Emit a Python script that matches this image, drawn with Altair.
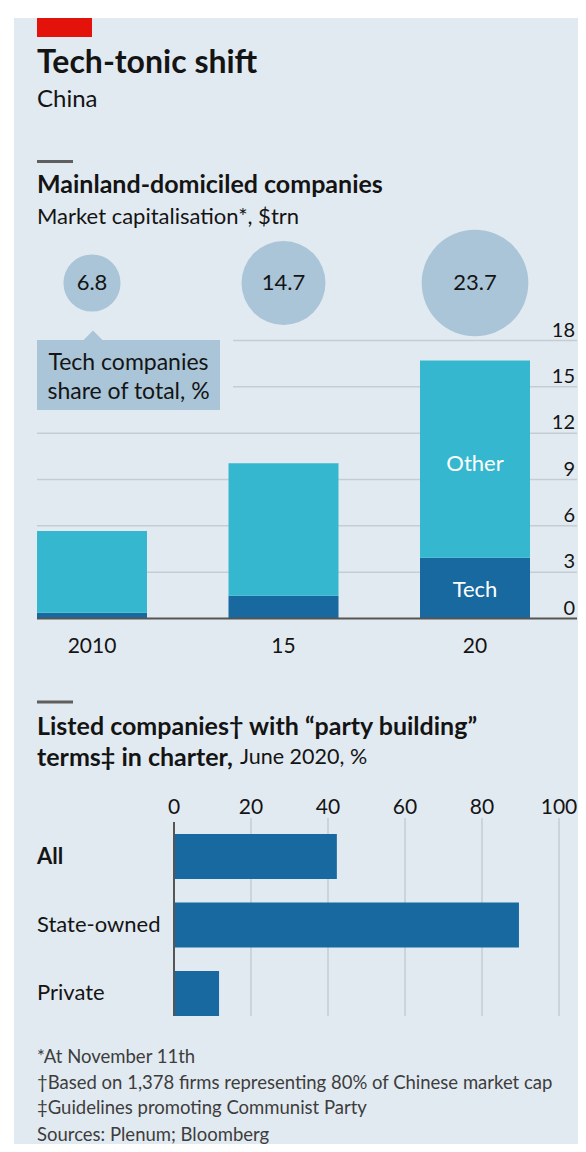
import altair as alt
import pandas as pd

# ---------------- data ----------------
years = ["2010", "15", "20"]
tech_trn = [0.38, 1.48, 3.94]
other_trn = [5.29, 8.57, 12.76]
tech_share = [6.8, 14.7, 23.7]
y_ticks = [0, 3, 6, 9, 12, 15, 18]

groups = ["All", "State-owned", "Private"]
party_pct = [42.3, 89.6, 11.7]
x_ticks = [0, 20, 40, 60, 80, 100]

footnotes = [
    "*At November 11th",
    "\u2020Based on 1,378 firms representing 80% of Chinese market cap",
    "\u2021Guidelines promoting Communist Party",
    "Sources: Plenum; Bloomberg",
]

# ---------------- style ----------------
BG = "#e2eaf1"
RED = "#e3120b"
TEAL = "#35b8cf"
DARK = "#1769a0"
BUBBLE = "#aac5d8"
GRID = "#c5ccd3"
AXIS = "#555555"
INK = "#141414"
NOTE = "#3d3d3d"
FONT = "Lato"

W, H = 570, 1136


def P(v):
    return v - 8


one = pd.DataFrame({"k": [0]})


def label(text, x, y, size, weight="normal", color=INK, align="left"):
    return alt.Chart(one).mark_text(
        text=text, align=align, baseline="middle", font=FONT,
        fontSize=size, fontWeight=weight, color=color,
    ).encode(x=alt.value(P(x)), y=alt.value(P(y)))


def box(x1, x2, y1, y2, color):
    return alt.Chart(one).mark_rect(color=color).encode(
        x=alt.value(P(x1)), x2=alt.value(P(x2)),
        y=alt.value(P(y1)), y2=alt.value(P(y2)))


def seg(x1, x2, y1, y2, color, width):
    return alt.Chart(one).mark_rule(color=color, strokeWidth=width).encode(
        x=alt.value(P(x1)), x2=alt.value(P(x2)),
        y=alt.value(P(y1)), y2=alt.value(P(y2)))


# scales
x_year = alt.Scale(type="band", domain=years, range=[P(37), P(530)],
                   paddingInner=0.4256, paddingOuter=0, align=0)
y_trn = alt.Scale(domain=[0, 18], range=[P(618.5), P(340.5)], nice=False, zero=True)
x_pct = alt.Scale(domain=[0, 100], range=[P(174), P(559)], nice=False, zero=True)
y_grp = alt.Scale(type="band", domain=groups, range=[P(834), P(1016)],
                  paddingInner=0.343, paddingOuter=0, align=0)


def XY():
    return alt.X("year:N", scale=x_year, axis=None, bandPosition=0.5)


def YG():
    return alt.Y("group:N", scale=y_grp, axis=None, bandPosition=0.5)


# tables
bars_df = pd.DataFrame({
    "year": years * 2,
    "segment": ["Tech"] * 3 + ["Other"] * 3,
    "value": tech_trn + other_trn,
    "ord": [0] * 3 + [1] * 3,
})
share_df = pd.DataFrame({"year": years, "share": tech_share})
yt_df = pd.DataFrame({"t": y_ticks})
grid_df = pd.DataFrame({"t": [t for t in y_ticks if t != 0]})
party_df = pd.DataFrame({"group": groups, "pct": party_pct})
xt_df = pd.DataFrame({"t": x_ticks})
xgrid_df = pd.DataFrame({"t": [t for t in x_ticks if t != 0]})

layers = []

# background & header
layers.append(box(14, 586, 18, 1152, BG))
layers.append(box(37, 92, 18, 37, RED))
layers.append(label("Tech-tonic shift", 37, 63, 32, "bold"))
layers.append(label("China", 37, 100, 24))
layers.append(seg(37, 73, 161.5, 161.5, "#5f5f5f", 3))
layers.append(label("Mainland-domiciled companies", 37, 185, 25, "bold"))
layers.append(label("Market capitalisation*, $trn", 37, 217, 22))

# gridlines (top)
layers.append(alt.Chart(grid_df).mark_rule(color=GRID, strokeWidth=1.5).encode(
    y=alt.Y("t:Q", scale=y_trn, axis=None),
    x=alt.value(P(37)), x2=alt.value(P(577))))

# annotation box
layers.append(box(30, 233, 330, 412, BG))
layers.append(box(37, 220, 340, 410, BUBBLE))
layers.append(alt.Chart(one).mark_point(
    shape="M -1 0 L 0 -1 L 1 0 Z", filled=True, size=400, color=BUBBLE,
    opacity=1, strokeWidth=0).encode(x=alt.value(P(93)), y=alt.value(P(340.5))))
layers.append(label("Tech companies", 128.5, 363, 23, align="center"))
layers.append(label("share of total, %", 128.5, 392, 23, align="center"))

# bubbles
layers.append(alt.Chart(share_df).mark_circle(color=BUBBLE, opacity=1).encode(
    x=XY(),
    y=alt.value(P(283)),
    size=alt.Size("share:Q", scale=alt.Scale(domain=[0, 23.7], range=[0, 11376],
                                              zero=True, nice=False), legend=None)))
layers.append(alt.Chart(share_df).mark_text(
    font=FONT, fontSize=22, color=INK, baseline="middle").encode(
    x=XY(),
    y=alt.value(P(283)),
    text=alt.Text("share:Q", format=".1f")))

# stacked bars
layers.append(alt.Chart(bars_df).mark_bar().encode(
    x=alt.X("year:N", scale=x_year, axis=None),
    y=alt.Y("value:Q", stack="zero", scale=y_trn, axis=None),
    color=alt.Color("segment:N", scale=alt.Scale(domain=["Tech", "Other"],
                                                 range=[DARK, TEAL]), legend=None),
    order=alt.Order("ord:Q")))

# zero line
layers.append(seg(37, 577, 618.5, 618.5, AXIS, 2))

# y tick labels
layers.append(alt.Chart(yt_df).mark_text(
    font=FONT, fontSize=20, color=INK, align="right", baseline="alphabetic",
    dy=-4).encode(
    y=alt.Y("t:Q", scale=y_trn, axis=None),
    x=alt.value(P(575)),
    text=alt.Text("t:Q")))

# year labels
layers.append(alt.Chart(share_df).mark_text(
    font=FONT, fontSize=21, color=INK, baseline="middle").encode(
    x=XY(),
    y=alt.value(P(647)),
    text=alt.Text("year:N")))

# segment labels in latest bar
seg_df = pd.DataFrame({"year": [years[-1]]})
layers.append(alt.Chart(seg_df).mark_text(
    text="Other", font=FONT, fontSize=22, color="white", baseline="middle").encode(
    x=XY(), y=alt.value(P(464))))
layers.append(alt.Chart(seg_df).mark_text(
    text="Tech", font=FONT, fontSize=22, color="white", baseline="middle").encode(
    x=XY(), y=alt.value(P(590))))

# second panel header
layers.append(seg(37, 73, 702, 702, "#5f5f5f", 3))
layers.append(label("Listed companies\u2020 with \u201cparty building\u201d", 37, 727, 25, "bold"))
layers.append(label("terms\u2021 in charter,", 37, 758, 25, "bold"))
layers.append(label("June 2020, %", 240, 758, 21.5))

# vertical gridlines
layers.append(alt.Chart(xgrid_df).mark_rule(color=GRID, strokeWidth=1.5).encode(
    x=alt.X("t:Q", scale=x_pct, axis=None),
    y=alt.value(P(818)), y2=alt.value(P(1016))))

# horizontal bars
layers.append(alt.Chart(party_df).mark_bar(color=DARK).encode(
    x=alt.X("pct:Q", scale=x_pct, axis=None),
    y=alt.Y("group:N", scale=y_grp, axis=None)))

# zero line (vertical)
layers.append(seg(174, 174, 822, 1016, AXIS, 2))

# x tick labels
layers.append(alt.Chart(xt_df).mark_text(
    font=FONT, fontSize=21, color=INK, baseline="middle").encode(
    x=alt.X("t:Q", scale=x_pct, axis=None),
    y=alt.value(P(808)),
    text=alt.Text("t:Q")))

# category labels
layers.append(alt.Chart(party_df[party_df.group == "All"]).mark_text(
    font=FONT, fontSize=22, fontWeight="bold", color=INK, align="left",
    baseline="middle").encode(
    y=YG(), x=alt.value(P(37)),
    text=alt.Text("group:N")))
layers.append(alt.Chart(party_df[party_df.group != "All"]).mark_text(
    font=FONT, fontSize=22, color=INK, align="left", baseline="middle").encode(
    y=YG(), x=alt.value(P(37)),
    text=alt.Text("group:N")))

# footnotes
for txt, yy in zip(footnotes, [1057, 1083, 1108, 1135]):
    layers.append(label(txt, 37, yy, 18.5, color=NOTE))

chart = alt.layer(*layers).resolve_scale(
    x="independent", y="independent"
).properties(
    width=W, height=H, padding=0,
    autosize=alt.AutoSizeParams(type="none"),
    background="white",
).configure_view(stroke=None)

chart.save("out.html", embed_options={"renderer": "svg", "actions": False})
